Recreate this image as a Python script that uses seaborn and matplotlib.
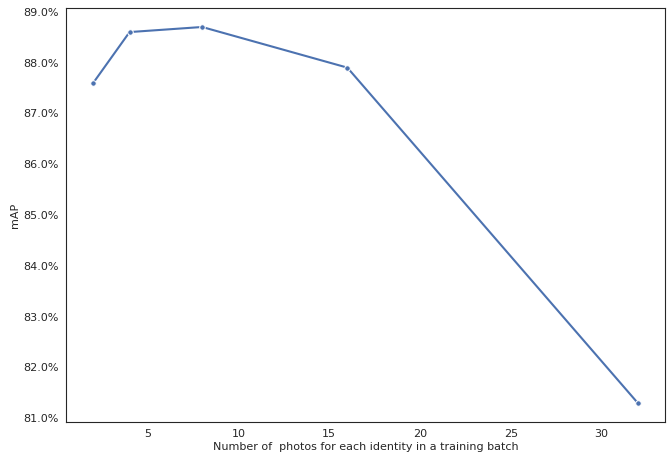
import pandas as pd
import matplotlib.pyplot as plt
import seaborn as sns
from matplotlib.ticker import FuncFormatter

photos = [2, 4, 8, 16, 32]
map_values = [87.6, 88.6, 88.7, 87.9, 81.3]

df = pd.DataFrame({'photos': photos, 'mAP': map_values})

sns.set_style("white")
fig, ax = plt.subplots(figsize=(6.67, 4.55), dpi=100)
sns.lineplot(data=df, x='photos', y='mAP', marker='o', markersize=4,
             color='#4c72b0', linewidth=1.5, ax=ax)
ax.yaxis.set_major_formatter(FuncFormatter(lambda v, p: f'{v:.1f}%'))
ax.set_xlabel('Number of  photos for each identity in a training batch', fontsize=8, labelpad=2)
ax.set_ylabel('mAP', fontsize=8, labelpad=2)
ax.tick_params(labelsize=8, pad=2)
for s in ax.spines.values():
    s.set_color('#262626')
fig.subplots_adjust(left=0.099, right=0.997, top=0.982, bottom=0.073)
fig.savefig('out.png', dpi=100)
